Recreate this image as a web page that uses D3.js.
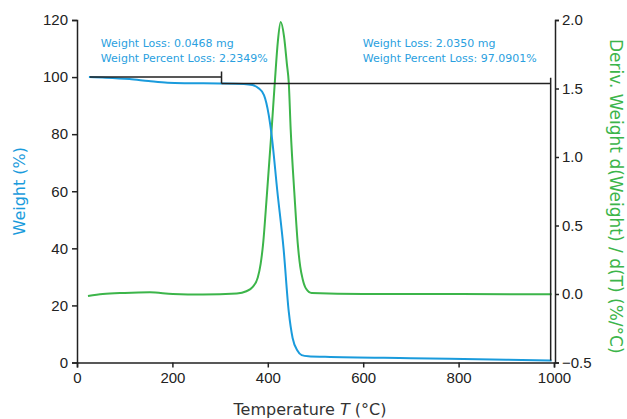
<!DOCTYPE html>
<meta charset="utf-8">
<title>TGA weight loss</title>
<style>
  html, body { margin: 0; padding: 0; background: #fff; }
  svg { display: block; font-family: 'DejaVu Sans', sans-serif; }
  .axis path, .axis line { stroke: #222; stroke-width: 1.5px; }
  .axis text { font-size: 15px; fill: #222; }
  .curve { fill: none; stroke-width: 2px; }
  .step { fill: none; stroke: #222; stroke-width: 1.5px; }
  .note { font-size: 11px; fill: #2a9fe0; }
</style>
<svg id="chart" width="627" height="419"></svg>
<script src="https://cdn.jsdelivr.net/npm/d3@7"></script>
<script>
  /* global d3 */
  'use strict'

  // weight curve, temperature (°C) vs weight (%)
  const weightT = [25, 60, 110, 150, 190, 230, 300, 350, 368, 380, 392, 402, 408,
    420, 433, 444, 452, 462, 471, 485, 520, 700, 900, 995]
  const weightPct = [100, 99.8, 99.3, 98.6, 98.0, 97.85, 97.77, 97.6, 97.2, 96.2,
    93.7, 86.7, 79.7, 60, 40, 17.7, 8.6, 4.2, 2.6, 2.2, 2.0, 1.5, 1.0, 0.68]

  // derivative curve, temperature (°C) vs d(Weight)/d(T) (%/°C)
  const derivT = [23, 54, 100, 153, 201, 264, 335, 355, 368, 379, 385, 390, 398,
    408, 415, 421, 427, 434, 440, 444, 448, 456, 463, 468, 473, 480, 492, 600,
    800, 995]
  const derivVal = [-0.015, 0.0, 0.008, 0.012, 0.0, -0.004, 0.004, 0.02, 0.05,
    0.12, 0.22, 0.36, 0.72, 1.20, 1.56, 1.84, 1.985, 1.88, 1.68, 1.54, 1.20, 0.72,
    0.36, 0.2, 0.11, 0.04, 0.007, 0.0, 0.0, -0.002]

  // step analysis: [start T, end T, start %, end %]
  const steps = [[27, 303, 100, 97.77], [303, 993, 97.77, 0.68]]
  const notes = [
    ['Weight Loss: 0.0468 mg', 'Weight Percent Loss: 2.2349%'],
    ['Weight Loss: 2.0350 mg', 'Weight Percent Loss: 97.0901%'],
  ]
  const noteT = [50, 599]

  const xTicks = [0, 200, 400, 600, 800, 1000]
  const yTicks = [0, 20, 40, 60, 80, 100, 120]
  const y2Ticks = [-0.5, 0.0, 0.5, 1.0, 1.5, 2.0]

  const blue = '#1a9bdc'
  const green = '#3cb54a'

  const margin = { top: 20, right: 72, bottom: 56.5, left: 77 }
  const width = 627 - margin.left - margin.right
  const height = 419 - margin.top - margin.bottom

  const x = d3.scaleLinear().domain([0, 1000]).range([0, width - 1])
  const y = d3.scaleLinear().domain([0, 120]).range([height, 0])
  const y2 = d3.scaleLinear().domain([-0.5, 2.0]).range([height, 0])

  const svg = d3.select('#chart')
  const g = svg.append('g')
    .attr('transform', `translate(${margin.left},${margin.top})`)

  // curves
  g.append('path')
    .attr('class', 'curve')
    .attr('stroke', green)
    .attr('d', d3.line().curve(d3.curveMonotoneX)
      .x(d => x(d[0])).y(d => y2(d[1]))(d3.zip(derivT, derivVal)))

  g.append('path')
    .attr('class', 'curve')
    .attr('stroke', blue)
    .attr('d', d3.line().curve(d3.curveMonotoneX)
      .x(d => x(d[0])).y(d => y(d[1]))(d3.zip(weightT, weightPct)))

  // step markers: level line, then a vertical tick at the end of each step
  steps.forEach(s => {
    g.append('path')
      .attr('class', 'step')
      .attr('d', `M${x(s[0])},${y(s[2])}H${x(s[1])}`
        + `M${x(s[1])},${y(s[2] + 2)}V${y(s[3])}`)
  })

  notes.forEach((lines, i) => {
    lines.forEach((t, j) => {
      g.append('text')
        .attr('class', 'note')
        .attr('x', x(noteT[i]))
        .attr('y', y(110.5) + j * 15)
        .text(t)
    })
  })

  // axes
  g.append('g').attr('class', 'axis')
    .attr('transform', `translate(0,${height})`)
    .call(d3.axisBottom(x).tickValues(xTicks).tickSizeOuter(0).tickSize(5)
      .tickPadding(5).tickFormat(d3.format('d')))

  g.append('g').attr('class', 'axis')
    .call(d3.axisLeft(y).tickValues(yTicks).tickSizeOuter(0).tickSize(5).tickPadding(4))

  g.append('g').attr('class', 'axis')
    .attr('transform', `translate(${width},0)`)
    .call(d3.axisRight(y2).tickValues(y2Ticks).tickSizeOuter(0).tickSize(4)
      .tickPadding(3).tickFormat(d3.format('.1f')))

  // axis titles
  const xt = svg.append('text')
    .attr('x', margin.left + width / 2 - 6)
    .attr('y', 415)
    .attr('text-anchor', 'middle')
    .style('font-size', '16px')
    .style('fill', '#333')
  xt.append('tspan').text('Temperature ')
  xt.append('tspan').style('font-style', 'italic').text('T')
  xt.append('tspan').text(' (°C)')

  svg.append('text')
    .attr('transform', `translate(25,${margin.top + height / 2}) rotate(-90)`)
    .attr('text-anchor', 'middle')
    .style('font-size', '16px')
    .style('fill', blue)
    .text('Weight (%)')

  svg.append('text')
    .attr('transform', `translate(610,${margin.top + height / 2 + 5}) rotate(90)`)
    .attr('text-anchor', 'middle')
    .style('font-size', '17px')
    .style('fill', green)
    .text('Deriv. Weight d(Weight) / d(T) (%/°C)')
</script>
